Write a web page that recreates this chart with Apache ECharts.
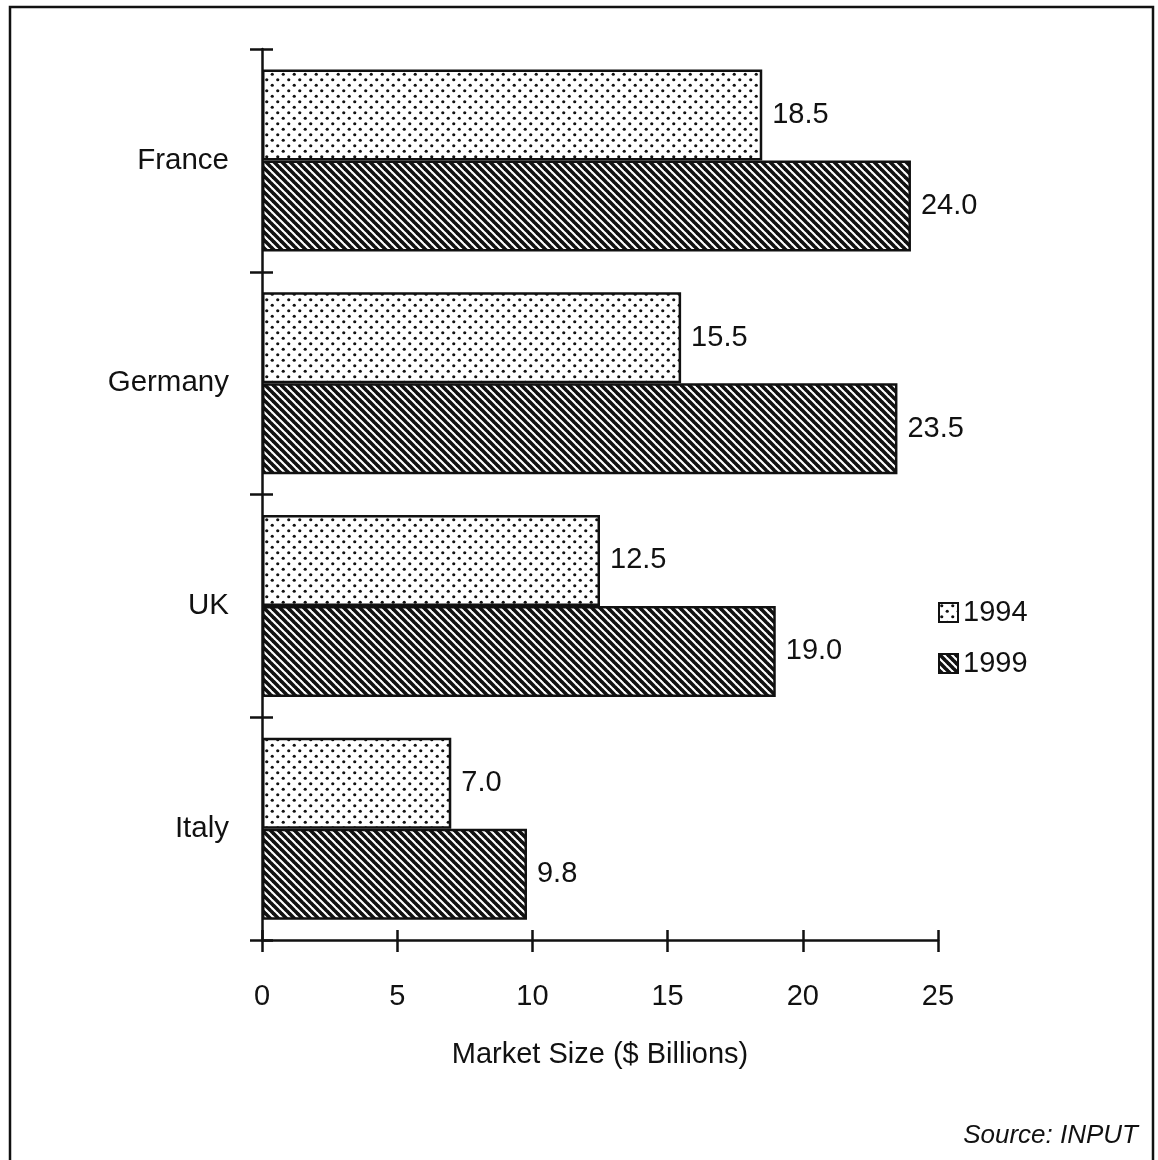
<!DOCTYPE html>
<html>
<head>
<meta charset="utf-8">
<script src="https://cdn.jsdelivr.net/npm/echarts@6/dist/echarts.min.js"></script>
<style>
html,body{margin:0;padding:0;background:#fff;}
#chart{width:1158px;height:1160px;}
</style>
</head>
<body>
<div id="chart"></div>
<script>
const categories = ['France', 'Germany', 'UK', 'Italy'];
const values1994 = [18.5, 15.5, 12.5, 7.0];
const values1999 = [24.0, 23.5, 19.0, 9.8];
const xTicks = [0, 5, 10, 15, 20, 25];

function dotPattern() {
  const c = document.createElement('canvas');
  c.width = 11; c.height = 11;
  const g = c.getContext('2d');
  g.fillStyle = '#fff'; g.fillRect(0, 0, 11, 11);
  g.fillStyle = '#111';
  [[2.75, 2.75], [8.25, 8.25]].forEach(p => {
    g.beginPath(); g.arc(p[0], p[1], 1.6, 0, Math.PI * 2); g.fill();
  });
  return c;
}
function stripePattern() {
  const c = document.createElement('canvas');
  c.width = 8; c.height = 8;
  const g = c.getContext('2d');
  g.fillStyle = '#fff'; g.fillRect(0, 0, 8, 8);
  g.strokeStyle = '#111'; g.lineWidth = 3.6;
  [-8, 0, 8].forEach(x0 => {
    g.beginPath(); g.moveTo(x0 - 1, -1); g.lineTo(x0 + 9, 9); g.stroke();
  });
  return c;
}

const font = 'Liberation Sans, Arial, Helvetica, sans-serif';
const chart = echarts.init(document.getElementById('chart'), null, {renderer: 'canvas'});
const labelStyle = {
  show: true, position: 'right', distance: 10, color: '#111',
  fontFamily: font, fontSize: 29,
  formatter: p => Number(p.value).toFixed(1)
};
const option = {
  backgroundColor: '#fff',
  animation: false,
  grid: {left: 262, right: 220, top: 49, bottom: 220, containLabel: false},
  xAxis: [{
    type: 'value', min: 0, max: 25, interval: 5,
    axisLine: {show: true, lineStyle: {color: '#111', width: 2.5}},
    axisTick: {show: true, inside: false, length: 12, lineStyle: {color: '#111', width: 2.5}},
    axisLabel: {color: '#111', fontFamily: font, fontSize: 29, margin: 42,
      formatter: v => xTicks.includes(v) ? String(v) : ''},
    splitLine: {show: false},
    name: 'Market Size ($ Billions)', nameLocation: 'middle', nameGap: 100,
    nameTextStyle: {color: '#111', fontFamily: font, fontSize: 29}
  }, {
    type: 'value', min: 0, max: 25, interval: 5, position: 'bottom',
    axisLine: {show: false},
    axisTick: {show: true, inside: true, length: 10, lineStyle: {color: '#111', width: 2.5}},
    axisLabel: {show: false}, splitLine: {show: false}
  }],
  yAxis: [{
    type: 'category', data: categories, inverse: true,
    axisLine: {show: true, lineStyle: {color: '#111', width: 2.5}},
    axisTick: {show: true, inside: false, length: 12, lineStyle: {color: '#111', width: 2.5}},
    axisLabel: {color: '#111', fontFamily: font, fontSize: 29.5, margin: 33}
  }, {
    type: 'category', data: categories, inverse: true, position: 'left',
    axisLine: {show: false},
    axisTick: {show: true, inside: true, length: 11, lineStyle: {color: '#111', width: 2.5}},
    axisLabel: {show: false}
  }],
  legend: {
    orient: 'vertical', left: 933, top: 593, itemWidth: 19, itemHeight: 19, itemGap: 22,
    icon: 'rect',
    textStyle: {color: '#111', fontFamily: font, fontSize: 29},
    data: ['1994', '1999']
  },
  series: [{
    name: '1994', type: 'bar', data: values1994, barWidth: 91, barGap: '0%',
    itemStyle: {color: {image: dotPattern(), repeat: 'repeat'}, borderColor: '#111', borderWidth: 2.5},
    label: labelStyle
  }, {
    name: '1999', type: 'bar', data: values1999, barWidth: 91, barGap: '0%',
    itemStyle: {color: {image: stripePattern(), repeat: 'repeat'}, borderColor: '#111', borderWidth: 2.5},
    label: labelStyle
  }],
  graphic: [{
    type: 'rect', shape: {x: 10, y: 7, width: 1143, height: 1165}, silent: true,
    style: {fill: 'none', stroke: '#111', lineWidth: 2.5}
  }, {
    type: 'text', x: 1138, y: 1136, silent: true,
    style: {text: 'Source: INPUT', fill: '#111', font: 'italic 26px ' + font, textAlign: 'right', textVerticalAlign: 'middle'}
  }]
};
chart.setOption(option);
</script>
</body>
</html>
